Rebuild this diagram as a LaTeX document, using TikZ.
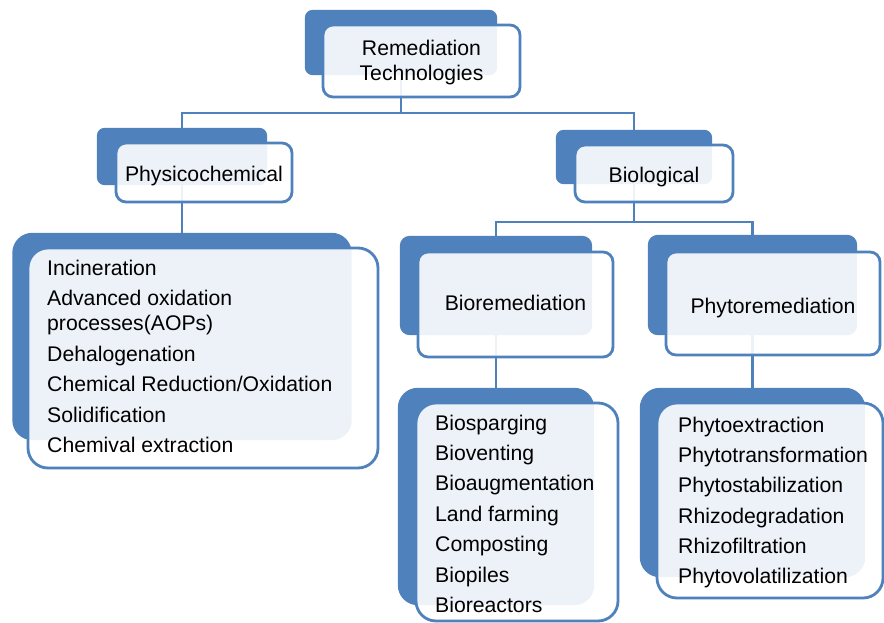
\documentclass[tikz,border=0pt]{standalone}
\usepackage{fontspec}
\setmainfont{Liberation Sans}
\definecolor{accblue}{HTML}{4F81BD}
\begin{document}
\begin{tikzpicture}[x=1pt,y=-1pt,
  frontbox/.style={fill=white, fill opacity=0.9, text opacity=1, draw=accblue, line width=2.8pt, rounded corners=10pt, inner sep=0pt, font=\fontsize{21.2}{25}\selectfont, align=center, text=black},
  listfront/.style={frontbox, rounded corners=20pt},
  backnode/.style={inner sep=0pt},
  listtext/.style={inner sep=0pt, anchor=north west, align=left, text=black},
  conn/.style={draw=accblue, line width=2.8pt}]
\useasboundingbox (0,0) rectangle (884,623);
\fill[white] (0,0) rectangle (884,623);

\coordinate (busA) at (0,113);
\coordinate (busB) at (0,222);

% back boxes (named, used for connectors)
\path (401,42.5) node[backnode, minimum width=192pt, minimum height=65pt] (rootB) {};
\path (182,156.5) node[backnode, minimum width=170pt, minimum height=57pt] (physB) {};
\path (634,157) node[backnode, minimum width=156pt, minimum height=54pt] (bioB) {};
\path (496,285.5) node[backnode, minimum width=192pt, minimum height=99pt] (bremB) {};
\path (752.5,285) node[backnode, minimum width=209pt, minimum height=100pt] (phytB) {};
\path (182,336.5) node[backnode, minimum width=339pt, minimum height=207pt] (physLB) {};
\path (496,496.5) node[backnode, minimum width=196pt, minimum height=217pt] (bremLB) {};
\path (752.5,482.5) node[backnode, minimum width=225pt, minimum height=189pt] (phytLB) {};

% connectors (behind boxes)
\draw[conn] (rootB.center) -- (rootB.center |- busA) -| (physB.center);
\draw[conn] (rootB.center |- busA) -| (bioB.center);
\draw[conn] (physB.center) -- (physLB.center);
\draw[conn] (bioB.center) -- (bioB.center |- busB) -| (bremB.center);
\draw[conn] (bioB.center |- busB) -| (phytB.center);
\draw[conn] (bremB.center) -- (bremLB.center);
\draw[conn] (phytB.center) -- (phytLB.center);

% back box fills
\fill[accblue, rounded corners=8pt] (rootB.north west) rectangle (rootB.south east);
\fill[accblue, rounded corners=8pt] (physB.north west) rectangle (physB.south east);
\fill[accblue, rounded corners=8pt] (bioB.north west) rectangle (bioB.south east);
\fill[accblue, rounded corners=10pt] (bremB.north west) rectangle (bremB.south east);
\fill[accblue, rounded corners=10pt] (phytB.north west) rectangle (phytB.south east);
\fill[accblue, rounded corners=20pt] (physLB.north west) rectangle (physLB.south east);
\fill[accblue, rounded corners=20pt] (bremLB.north west) rectangle (bremLB.south east);
\fill[accblue, rounded corners=20pt] (phytLB.north west) rectangle (phytLB.south east);

% front boxes
\node[frontbox, minimum width=197pt, minimum height=72pt] (root) at (421.5,61)
  {\raisebox{-20pt}[0pt][0pt]{\begin{tabular}[b]{@{}c@{}}Remediation\\Technologies\end{tabular}}};
\node[frontbox, minimum width=176pt, minimum height=59pt] (phys) at (204,172.5) {\raisebox{-9.2pt}[0pt][0pt]{Physicochemical}};
\node[frontbox, minimum width=158pt, minimum height=57pt] (bio) at (654,173.5) {\raisebox{-9.2pt}[0pt][0pt]{Biological}};
\node[frontbox, minimum width=195pt, minimum height=105pt] (brem) at (515.5,304.5) {\raisebox{-6.2pt}[0pt][0pt]{Bioremediation}};
\node[frontbox, minimum width=214pt, minimum height=103pt] (phyt) at (773,303.5) {\raisebox{-9.8pt}[0pt][0pt]{Phytoremediation}};
\node[listfront, minimum width=350pt, minimum height=220pt] (physL) at (203,358) {};
\node[listfront, minimum width=202pt, minimum height=218pt] (bremL) at (517,512) {};
\node[listfront, minimum width=226pt, minimum height=195pt] (phytL) at (770,500.5) {};

% list texts
\node[listtext, font=\fontsize{21.2}{30.5}\selectfont] (physT) at (47,259.5)
  {Incineration\\Advanced oxidation\\[-5.5pt]processes(AOPs)\\Dehalogenation\\Chemical Reduction/Oxidation\\Solidification\\Chemival extraction};
\node[listtext, font=\fontsize{21.2}{30.4}\selectfont] (bremT) at (435,414.5)
  {Biosparging\\Bioventing\\Bioaugmentation\\Land farming\\Composting\\Biopiles\\Bioreactors};
\node[listtext, font=\fontsize{21.2}{30.2}\selectfont] (phytT) at (678,417)
  {Phytoextraction\\Phytotransformation\\Phytostabilization\\Rhizodegradation\\Rhizofiltration\\Phytovolatilization};
\end{tikzpicture}
\end{document}
